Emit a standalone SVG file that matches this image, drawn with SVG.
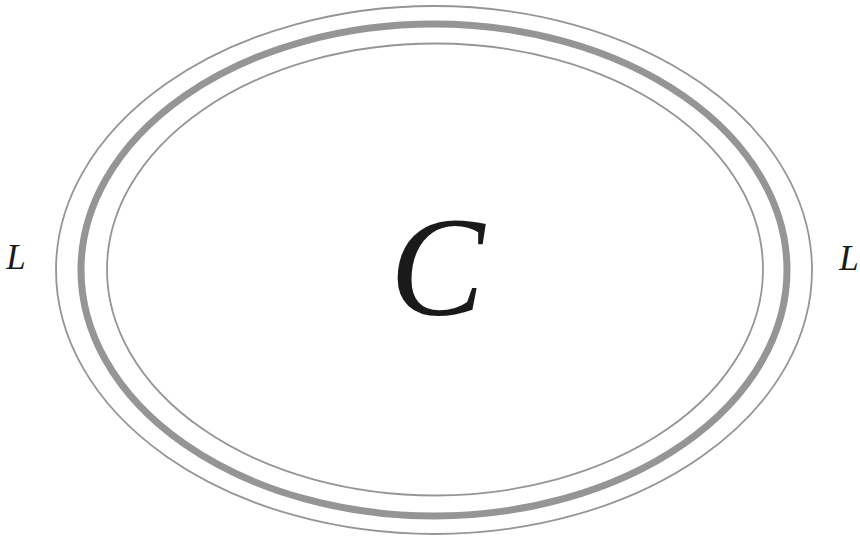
<svg xmlns="http://www.w3.org/2000/svg" width="860" height="538" viewBox="0 0 860 538">
<style>
.thin{fill:none;stroke:#959595;stroke-width:1.8}
.thick{fill:none;stroke:#959595;stroke-width:7}
.lbl{font-family:"Liberation Serif","Times New Roman",serif;font-style:italic;fill:#1a1a1a}
</style>
<rect width="860" height="538" fill="#ffffff"/>
<g id="connectors">
<ellipse class="thin" cx="434" cy="270" rx="378" ry="264"/>
<ellipse class="thick" cx="434" cy="270" rx="353" ry="246"/>
<ellipse class="thin" cx="435" cy="269.5" rx="328" ry="226"/>
</g>
<g id="nodeC"><text class="lbl" x="437" y="315" font-size="142" text-anchor="middle">C</text></g>
<g id="nodeL1"><text class="lbl" x="16" y="269" font-size="35" text-anchor="middle">L</text></g>
<g id="nodeL2"><text class="lbl" x="849" y="270" font-size="35" text-anchor="middle">L</text></g>
</svg>
